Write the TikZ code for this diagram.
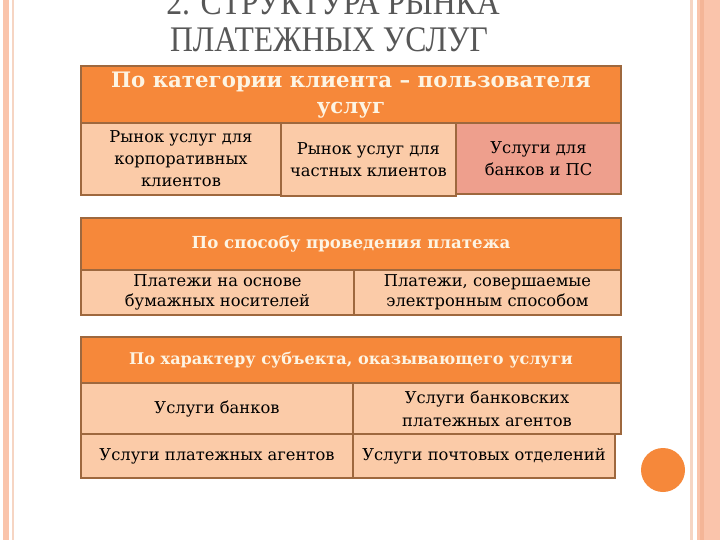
\documentclass[tikz,border=0pt]{standalone}
\usepackage{fontspec}
\setmainfont{DejaVu Serif}
\newfontfamily\ttlfont{Liberation Serif}
\definecolor{hdr}{HTML}{F6883A}
\definecolor{peach}{HTML}{FBCBA8}
\definecolor{salmon}{HTML}{EE9F8D}
\definecolor{bord}{HTML}{9E683E}
\definecolor{hdrtxt}{HTML}{FDF4E3}
\definecolor{ttl}{HTML}{575757}
\definecolor{stripecol}{HTML}{FAC4AB}
\definecolor{stripedark}{HTML}{F4B597}
\definecolor{thinlinecol}{HTML}{F6D5C3}
\begin{document}
\begin{tikzpicture}[x=1pt,y=-1pt,
  cellbox/.style={draw=bord, line width=1.6pt, rectangle, inner sep=0pt, align=center,
    fill=peach, text=black, font=\fontsize{16.3}{22}\selectfont},
  hdrbox/.style={cellbox, fill=hdr, text=hdrtxt},
  titletext/.style={text=ttl, inner sep=0pt, anchor=base}]
\useasboundingbox (0,0) rectangle (720,540);
\fill[white] (0,0) rectangle (720,540);
% side decorations
\fill[stripecol] (3,0) rectangle (9,540);
\fill[thinlinecol] (12,0) rectangle (14,540);
\fill[thinlinecol] (690,0) rectangle (693,540);
\fill[stripecol] (697,0) rectangle (720,540);
\fill[stripedark] (700,0) rectangle (704,540);
% title
\node[titletext] (t1) at (333,15) {\ttlfont\fontsize{36}{36}\selectfont\scalebox{0.88}[1]{2. СТРУКТУРА РЫНКА}};
\node[titletext] (t2) at (329,52) {\ttlfont\fontsize{36}{36}\selectfont\scalebox{0.88}[1]{ПЛАТЕЖНЫХ УСЛУГ}};
% table 1
\node[hdrbox, minimum width=540, minimum height=58, font=\bfseries\fontsize{21.3}{26}\selectfont] (h1) at (351,95) {По категории клиента – пользователя\\услуг};
\node[cellbox, minimum width=200, minimum height=72] (c11) at (181,159) {Рынок услуг для\\корпоративных\\клиентов};
\node[cellbox, minimum width=175, minimum height=73] (c12) at (368.5,159.5) {Рынок услуг для\\частных клиентов};
\node[cellbox, fill=salmon, minimum width=165, minimum height=71] (c13) at (538.5,158.5) {Услуги для\\банков и ПС};
% table 2
\node[hdrbox, minimum width=540, minimum height=52, font=\bfseries\fontsize{16.6}{20}\selectfont] (h2) at (351,244) {По способу проведения платежа};
\node[cellbox, minimum width=273, minimum height=45, font=\fontsize{16.3}{20}\selectfont] (c21) at (217.5,292.5) {Платежи на основе\\бумажных носителей};
\node[cellbox, minimum width=267, minimum height=45, font=\fontsize{16.3}{20}\selectfont] (c22) at (487.5,292.5) {Платежи, совершаемые\\электронным способом};
% table 3
\node[hdrbox, minimum width=540, minimum height=46, font=\bfseries\fontsize{16.1}{20}\selectfont] (h3) at (351,360) {По характеру субъекта, оказывающего услуги};
\node[cellbox, minimum width=272, minimum height=51] (c31) at (217,408.5) {Услуги банков};
\node[cellbox, minimum width=268, minimum height=51, font=\fontsize{16.3}{23}\selectfont] (c32) at (487,408.5) {Услуги банковских\\платежных агентов};
\node[cellbox, minimum width=272, minimum height=44] (c33) at (217,456) {Услуги платежных агентов};
\node[cellbox, minimum width=262, minimum height=44] (c34) at (484,456) {Услуги почтовых отделений};
% circle
\fill[hdr] (663,470) circle (22);
\end{tikzpicture}
\end{document}
